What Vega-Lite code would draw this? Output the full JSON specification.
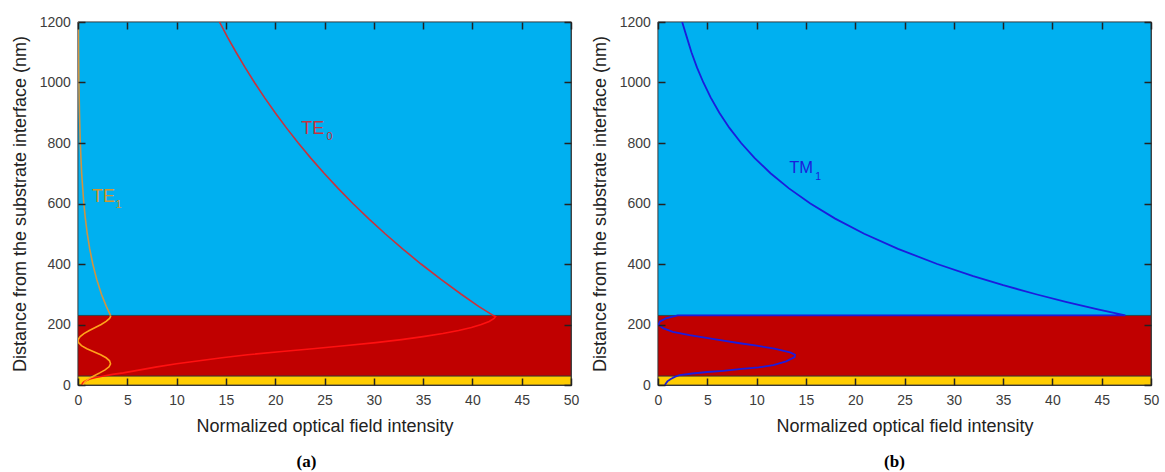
{
  "$schema": "https://vega.github.io/schema/vega-lite/v6.json",
  "padding": {"left": 10, "top": 14, "right": 13, "bottom": 0},
  "background": "white",
  "bounds": "flush",
  "spacing": 87,
  "config": {
    "view": {"stroke": "#3a3a3a", "strokeWidth": 1.2},
    "font": "Liberation Sans",
    "axis": {
      "grid": false, "domain": false, "tickSize": 7, "offset": -7, "tickColor": "#222222", "tickWidth": 1.5,
      "labelFont": "Liberation Sans", "labelFontSize": 14, "labelColor": "#3c3c3c",
      "labelFlush": false, "labelOverlap": false,
      "titleFont": "Liberation Sans", "titleFontSize": 18, "titleFontWeight": "normal", "titleColor": "#222222"
    }
  },
  "datasets": {
    "bands": [
      {"layer": "substrate", "x0": 0, "x1": 50, "y0": 0, "y1": 30},
      {"layer": "guide", "x0": 0, "x1": 50, "y0": 30, "y1": 230},
      {"layer": "cover", "x0": 0, "x1": 50, "y0": 230, "y1": 1200}
    ],
    "curvesA": [
      {"s": "TE0 core", "i": 0, "x": 0.4, "y": 0},
      {"s": "TE0 core", "i": 1, "x": 0.45, "y": 5},
      {"s": "TE0 core", "i": 2, "x": 0.6, "y": 10},
      {"s": "TE0 core", "i": 3, "x": 0.85, "y": 15},
      {"s": "TE0 core", "i": 4, "x": 1.2, "y": 20},
      {"s": "TE0 core", "i": 5, "x": 1.8, "y": 25},
      {"s": "TE0 core", "i": 6, "x": 2.6, "y": 30},
      {"s": "TE0 core", "i": 7, "x": 3.5, "y": 35},
      {"s": "TE0 core", "i": 8, "x": 4.6, "y": 40},
      {"s": "TE0 core", "i": 9, "x": 6.3, "y": 50},
      {"s": "TE0 core", "i": 10, "x": 8.0, "y": 60},
      {"s": "TE0 core", "i": 11, "x": 10.0, "y": 70},
      {"s": "TE0 core", "i": 12, "x": 12.3, "y": 80},
      {"s": "TE0 core", "i": 13, "x": 14.6, "y": 90},
      {"s": "TE0 core", "i": 14, "x": 17.2, "y": 100},
      {"s": "TE0 core", "i": 15, "x": 20.4, "y": 110},
      {"s": "TE0 core", "i": 16, "x": 23.8, "y": 120},
      {"s": "TE0 core", "i": 17, "x": 27.0, "y": 130},
      {"s": "TE0 core", "i": 18, "x": 30.2, "y": 140},
      {"s": "TE0 core", "i": 19, "x": 32.8, "y": 150},
      {"s": "TE0 core", "i": 20, "x": 35.0, "y": 160},
      {"s": "TE0 core", "i": 21, "x": 37.0, "y": 170},
      {"s": "TE0 core", "i": 22, "x": 38.6, "y": 180},
      {"s": "TE0 core", "i": 23, "x": 39.9, "y": 190},
      {"s": "TE0 core", "i": 24, "x": 40.9, "y": 200},
      {"s": "TE0 core", "i": 25, "x": 41.7, "y": 210},
      {"s": "TE0 core", "i": 26, "x": 42.2, "y": 220},
      {"s": "TE0 core", "i": 27, "x": 42.35, "y": 226},
      {"s": "TE0 core", "i": 28, "x": 42.1, "y": 230},
      {"s": "TE0 cover", "i": 0, "x": 42.1, "y": 230},
      {"s": "TE0 cover", "i": 1, "x": 40.63, "y": 260},
      {"s": "TE0 cover", "i": 2, "x": 38.87, "y": 300},
      {"s": "TE0 cover", "i": 3, "x": 36.78, "y": 350},
      {"s": "TE0 cover", "i": 4, "x": 34.79, "y": 400},
      {"s": "TE0 cover", "i": 5, "x": 32.92, "y": 450},
      {"s": "TE0 cover", "i": 6, "x": 31.15, "y": 500},
      {"s": "TE0 cover", "i": 7, "x": 29.47, "y": 550},
      {"s": "TE0 cover", "i": 8, "x": 27.88, "y": 600},
      {"s": "TE0 cover", "i": 9, "x": 26.38, "y": 650},
      {"s": "TE0 cover", "i": 10, "x": 24.96, "y": 700},
      {"s": "TE0 cover", "i": 11, "x": 23.61, "y": 750},
      {"s": "TE0 cover", "i": 12, "x": 22.34, "y": 800},
      {"s": "TE0 cover", "i": 13, "x": 21.14, "y": 850},
      {"s": "TE0 cover", "i": 14, "x": 20.0, "y": 900},
      {"s": "TE0 cover", "i": 15, "x": 18.92, "y": 950},
      {"s": "TE0 cover", "i": 16, "x": 17.9, "y": 1000},
      {"s": "TE0 cover", "i": 17, "x": 16.94, "y": 1050},
      {"s": "TE0 cover", "i": 18, "x": 16.03, "y": 1100},
      {"s": "TE0 cover", "i": 19, "x": 15.16, "y": 1150},
      {"s": "TE0 cover", "i": 20, "x": 14.35, "y": 1200},
      {"s": "TE1 core", "i": 0, "x": 0.5, "y": 0},
      {"s": "TE1 core", "i": 1, "x": 0.7, "y": 10},
      {"s": "TE1 core", "i": 2, "x": 1.05, "y": 20},
      {"s": "TE1 core", "i": 3, "x": 1.6, "y": 30},
      {"s": "TE1 core", "i": 4, "x": 2.2, "y": 40},
      {"s": "TE1 core", "i": 5, "x": 2.75, "y": 50},
      {"s": "TE1 core", "i": 6, "x": 3.15, "y": 60},
      {"s": "TE1 core", "i": 7, "x": 3.3, "y": 70},
      {"s": "TE1 core", "i": 8, "x": 3.2, "y": 80},
      {"s": "TE1 core", "i": 9, "x": 2.85, "y": 90},
      {"s": "TE1 core", "i": 10, "x": 2.3, "y": 100},
      {"s": "TE1 core", "i": 11, "x": 1.6, "y": 110},
      {"s": "TE1 core", "i": 12, "x": 0.9, "y": 120},
      {"s": "TE1 core", "i": 13, "x": 0.35, "y": 130},
      {"s": "TE1 core", "i": 14, "x": 0.05, "y": 140},
      {"s": "TE1 core", "i": 15, "x": 0.0, "y": 146},
      {"s": "TE1 core", "i": 16, "x": 0.05, "y": 152},
      {"s": "TE1 core", "i": 17, "x": 0.22, "y": 160},
      {"s": "TE1 core", "i": 18, "x": 0.6, "y": 170},
      {"s": "TE1 core", "i": 19, "x": 1.15, "y": 180},
      {"s": "TE1 core", "i": 20, "x": 1.75, "y": 190},
      {"s": "TE1 core", "i": 21, "x": 2.35, "y": 200},
      {"s": "TE1 core", "i": 22, "x": 2.85, "y": 210},
      {"s": "TE1 core", "i": 23, "x": 3.2, "y": 220},
      {"s": "TE1 core", "i": 24, "x": 3.3, "y": 226},
      {"s": "TE1 core", "i": 25, "x": 3.3, "y": 230},
      {"s": "TE1 cover", "i": 0, "x": 3.3, "y": 230},
      {"s": "TE1 cover", "i": 1, "x": 2.87, "y": 260},
      {"s": "TE1 cover", "i": 2, "x": 2.38, "y": 300},
      {"s": "TE1 cover", "i": 3, "x": 1.89, "y": 350},
      {"s": "TE1 cover", "i": 4, "x": 1.5, "y": 400},
      {"s": "TE1 cover", "i": 5, "x": 1.19, "y": 450},
      {"s": "TE1 cover", "i": 6, "x": 0.94, "y": 500},
      {"s": "TE1 cover", "i": 7, "x": 0.75, "y": 550},
      {"s": "TE1 cover", "i": 8, "x": 0.59, "y": 600},
      {"s": "TE1 cover", "i": 9, "x": 0.37, "y": 700},
      {"s": "TE1 cover", "i": 10, "x": 0.23, "y": 800},
      {"s": "TE1 cover", "i": 11, "x": 0.15, "y": 900},
      {"s": "TE1 cover", "i": 12, "x": 0.09, "y": 1000},
      {"s": "TE1 cover", "i": 13, "x": 0.06, "y": 1100},
      {"s": "TE1 cover", "i": 14, "x": 0.04, "y": 1200}
    ],
    "curvesB": [
      {"s": "TM1", "i": 0, "x": 0.7, "y": 0},
      {"s": "TM1", "i": 1, "x": 0.8, "y": 5},
      {"s": "TM1", "i": 2, "x": 0.95, "y": 12},
      {"s": "TM1", "i": 3, "x": 1.3, "y": 20},
      {"s": "TM1", "i": 4, "x": 1.7, "y": 27},
      {"s": "TM1", "i": 5, "x": 2.2, "y": 33},
      {"s": "TM1", "i": 6, "x": 3.5, "y": 38},
      {"s": "TM1", "i": 7, "x": 5.0, "y": 43},
      {"s": "TM1", "i": 8, "x": 6.6, "y": 47},
      {"s": "TM1", "i": 9, "x": 8.5, "y": 53},
      {"s": "TM1", "i": 10, "x": 10.2, "y": 58},
      {"s": "TM1", "i": 11, "x": 11.7, "y": 66},
      {"s": "TM1", "i": 12, "x": 13.0, "y": 78},
      {"s": "TM1", "i": 13, "x": 13.85, "y": 92},
      {"s": "TM1", "i": 14, "x": 13.9, "y": 100},
      {"s": "TM1", "i": 15, "x": 13.4, "y": 108},
      {"s": "TM1", "i": 16, "x": 11.8, "y": 120},
      {"s": "TM1", "i": 17, "x": 10.0, "y": 130},
      {"s": "TM1", "i": 18, "x": 8.3, "y": 138},
      {"s": "TM1", "i": 19, "x": 6.0, "y": 150},
      {"s": "TM1", "i": 20, "x": 3.2, "y": 165},
      {"s": "TM1", "i": 21, "x": 1.5, "y": 176},
      {"s": "TM1", "i": 22, "x": 0.5, "y": 188},
      {"s": "TM1", "i": 23, "x": 0.05, "y": 200},
      {"s": "TM1", "i": 24, "x": 0.2, "y": 210},
      {"s": "TM1", "i": 25, "x": 0.8, "y": 220},
      {"s": "TM1", "i": 26, "x": 2.0, "y": 230},
      {"s": "TM1", "i": 27, "x": 47.4, "y": 230},
      {"s": "TM1", "i": 28, "x": 44.61, "y": 250},
      {"s": "TM1", "i": 29, "x": 41.36, "y": 275},
      {"s": "TM1", "i": 30, "x": 38.34, "y": 300},
      {"s": "TM1", "i": 31, "x": 35.01, "y": 330},
      {"s": "TM1", "i": 32, "x": 31.97, "y": 360},
      {"s": "TM1", "i": 33, "x": 28.32, "y": 400},
      {"s": "TM1", "i": 34, "x": 24.34, "y": 450},
      {"s": "TM1", "i": 35, "x": 20.91, "y": 500},
      {"s": "TM1", "i": 36, "x": 17.97, "y": 550},
      {"s": "TM1", "i": 37, "x": 15.45, "y": 600},
      {"s": "TM1", "i": 38, "x": 13.28, "y": 650},
      {"s": "TM1", "i": 39, "x": 11.41, "y": 700},
      {"s": "TM1", "i": 40, "x": 9.81, "y": 750},
      {"s": "TM1", "i": 41, "x": 8.43, "y": 800},
      {"s": "TM1", "i": 42, "x": 7.24, "y": 850},
      {"s": "TM1", "i": 43, "x": 6.22, "y": 900},
      {"s": "TM1", "i": 44, "x": 5.35, "y": 950},
      {"s": "TM1", "i": 45, "x": 4.6, "y": 1000},
      {"s": "TM1", "i": 46, "x": 3.95, "y": 1050},
      {"s": "TM1", "i": 47, "x": 3.39, "y": 1100},
      {"s": "TM1", "i": 48, "x": 2.92, "y": 1150},
      {"s": "TM1", "i": 49, "x": 2.45, "y": 1200}
    ],
    "labelsA": [
      {"s": "TE0", "t": "TE", "x": 22.65, "y": 846},
      {"s": "TE1", "t": "TE", "x": 1.42, "y": 623}
    ],
    "subsA": [
      {"s": "TE0", "t": "0", "x": 25.2, "y": 820},
      {"s": "TE1", "t": "1", "x": 3.8, "y": 595}
    ],
    "labelsB": [
      {"s": "TM1", "t": "TM", "x": 13.3, "y": 716}
    ],
    "subsB": [
      {"s": "TM1", "t": "1", "x": 15.95, "y": 686}
    ]
  },
  "hconcat": [
    {
      "width": 493,
      "height": 363,
      "title": {"text": "(a)", "orient": "bottom", "font": "Liberation Serif", "fontSize": 17, "fontWeight": "bold", "color": "#000000", "offset": 19, "dx": -18},
      "resolve": {"scale": {"color": "independent"}},
      "layer": [
        {
          "data": {"name": "bands"},
          "mark": {"type": "rect", "stroke": "#333333", "strokeWidth": 0.8},
          "encoding": {
            "x": {"field": "x0", "type": "quantitative", "scale": {"domain": [0, 50], "nice": false, "zero": false},
                  "axis": {"orient": "bottom", "zindex": 1, "values": [0, 5, 10, 15, 20, 25, 30, 35, 40, 45, 50], "labelPadding": 8, "title": "Normalized optical field intensity", "titlePadding": 10}},
            "x2": {"field": "x1"},
            "y": {"field": "y0", "type": "quantitative", "scale": {"domain": [0, 1200], "nice": false},
                  "axis": {"orient": "left", "zindex": 1, "format": "d", "values": [0, 200, 400, 600, 800, 1000, 1200], "labelPadding": 7.7, "title": "Distance from the substrate interface (nm)", "titlePadding": 10}},
            "y2": {"field": "y1"},
            "color": {"field": "layer", "type": "nominal", "scale": {"domain": ["substrate", "guide", "cover"], "range": ["#ffcc00", "#c00000", "#00b0f0"]}, "legend": null}
          }
        },
        {
          "data": {"name": "curvesA"},
          "mark": {"type": "line", "strokeWidth": 1.6, "clip": true},
          "encoding": {
            "x": {"field": "x", "type": "quantitative", "axis": {"orient": "top", "zindex": 1, "values": [0, 5, 10, 15, 20, 25, 30, 35, 40, 45, 50], "labels": false, "title": null}},
            "y": {"field": "y", "type": "quantitative", "axis": {"orient": "right", "zindex": 1, "values": [0, 200, 400, 600, 800, 1000, 1200], "labels": false, "title": null}},
            "order": {"field": "i", "type": "quantitative"},
            "color": {"field": "s", "type": "nominal", "scale": {"domain": ["TE0 core", "TE0 cover", "TE1 core", "TE1 cover"], "range": ["#ff1010", "#c8323c", "#ffa31a", "#cf9440"]}, "legend": null}
          }
        },
        {
          "data": {"name": "labelsA"},
          "mark": {"type": "text", "align": "left", "baseline": "middle", "fontSize": 18, "font": "Liberation Sans"},
          "encoding": {
            "x": {"field": "x", "type": "quantitative", "axis": {"orient": "bottom", "offset": 0, "labels": false, "ticks": false, "domain": false, "title": null}},
            "y": {"field": "y", "type": "quantitative", "axis": {"orient": "left", "offset": 0, "labels": false, "ticks": false, "domain": false, "title": null}},
            "text": {"field": "t"},
            "color": {"field": "s", "type": "nominal", "scale": {"domain": ["TE0", "TE1"], "range": ["#c8323c", "#d4962e"]}, "legend": null}
          }
        },
        {
          "data": {"name": "subsA"},
          "mark": {"type": "text", "align": "left", "baseline": "middle", "fontSize": 11, "font": "Liberation Sans"},
          "encoding": {
            "x": {"field": "x", "type": "quantitative", "axis": {"orient": "bottom", "offset": 0, "labels": false, "ticks": false, "domain": false, "title": null}},
            "y": {"field": "y", "type": "quantitative", "axis": {"orient": "left", "offset": 0, "labels": false, "ticks": false, "domain": false, "title": null}},
            "text": {"field": "t"},
            "color": {"field": "s", "type": "nominal", "scale": {"domain": ["TE0", "TE1"], "range": ["#c8323c", "#d4962e"]}, "legend": null}
          }
        }
      ]
    },
    {
      "width": 493,
      "height": 363,
      "title": {"text": "(b)", "orient": "bottom", "font": "Liberation Serif", "fontSize": 17, "fontWeight": "bold", "color": "#000000", "offset": 19, "dx": -10},
      "resolve": {"scale": {"color": "independent"}},
      "layer": [
        {
          "data": {"name": "bands"},
          "mark": {"type": "rect", "stroke": "#333333", "strokeWidth": 0.8},
          "encoding": {
            "x": {"field": "x0", "type": "quantitative", "scale": {"domain": [0, 50], "nice": false, "zero": false},
                  "axis": {"orient": "bottom", "zindex": 1, "values": [0, 5, 10, 15, 20, 25, 30, 35, 40, 45, 50], "labelPadding": 8, "title": "Normalized optical field intensity", "titlePadding": 10}},
            "x2": {"field": "x1"},
            "y": {"field": "y0", "type": "quantitative", "scale": {"domain": [0, 1200], "nice": false},
                  "axis": {"orient": "left", "zindex": 1, "format": "d", "values": [0, 200, 400, 600, 800, 1000, 1200], "labelPadding": 7.7, "title": "Distance from the substrate interface (nm)", "titlePadding": 10}},
            "y2": {"field": "y1"},
            "color": {"field": "layer", "type": "nominal", "scale": {"domain": ["substrate", "guide", "cover"], "range": ["#ffcc00", "#c00000", "#00b0f0"]}, "legend": null}
          }
        },
        {
          "data": {"name": "curvesB"},
          "mark": {"type": "line", "strokeWidth": 1.8, "clip": true},
          "encoding": {
            "x": {"field": "x", "type": "quantitative", "axis": {"orient": "top", "zindex": 1, "values": [0, 5, 10, 15, 20, 25, 30, 35, 40, 45, 50], "labels": false, "title": null}},
            "y": {"field": "y", "type": "quantitative", "axis": {"orient": "right", "zindex": 1, "values": [0, 200, 400, 600, 800, 1000, 1200], "labels": false, "title": null}},
            "order": {"field": "i", "type": "quantitative"},
            "color": {"field": "s", "type": "nominal", "scale": {"domain": ["TM1"], "range": ["#1c1cdc"]}, "legend": null}
          }
        },
        {
          "data": {"name": "labelsB"},
          "mark": {"type": "text", "align": "left", "baseline": "middle", "fontSize": 16.5, "font": "Liberation Sans"},
          "encoding": {
            "x": {"field": "x", "type": "quantitative", "axis": {"orient": "bottom", "offset": 0, "labels": false, "ticks": false, "domain": false, "title": null}},
            "y": {"field": "y", "type": "quantitative", "axis": {"orient": "left", "offset": 0, "labels": false, "ticks": false, "domain": false, "title": null}},
            "text": {"field": "t"},
            "color": {"field": "s", "type": "nominal", "scale": {"domain": ["TM1"], "range": ["#1c1cdc"]}, "legend": null}
          }
        },
        {
          "data": {"name": "subsB"},
          "mark": {"type": "text", "align": "left", "baseline": "middle", "fontSize": 10.5, "font": "Liberation Sans"},
          "encoding": {
            "x": {"field": "x", "type": "quantitative", "axis": {"orient": "bottom", "offset": 0, "labels": false, "ticks": false, "domain": false, "title": null}},
            "y": {"field": "y", "type": "quantitative", "axis": {"orient": "left", "offset": 0, "labels": false, "ticks": false, "domain": false, "title": null}},
            "text": {"field": "t"},
            "color": {"field": "s", "type": "nominal", "scale": {"domain": ["TM1"], "range": ["#1c1cdc"]}, "legend": null}
          }
        }
      ]
    }
  ]
}
